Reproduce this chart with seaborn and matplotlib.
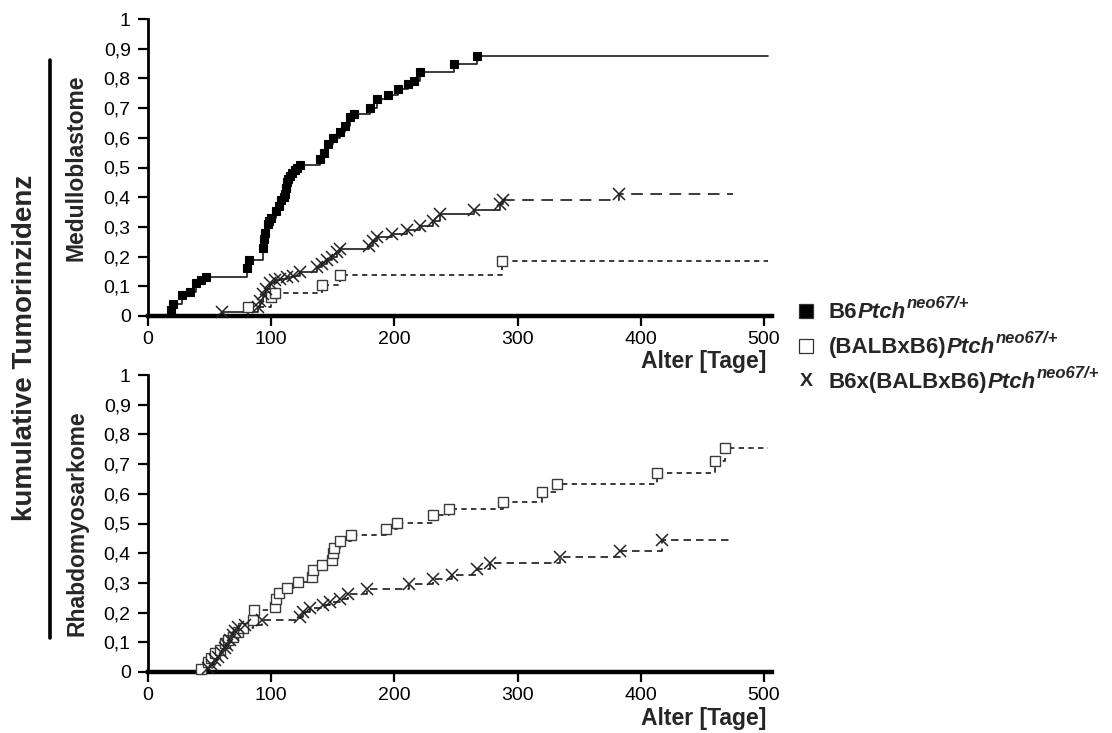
import numpy as np
import pandas as pd
import matplotlib
matplotlib.use("Agg")
import matplotlib.pyplot as plt
from matplotlib.lines import Line2D
import seaborn as sns

# ---------------- data: cumulative tumour incidence (event day, incidence) ----------------
groups = ["B6", "BALBxB6", "B6xBALBxB6"]

# Medulloblastome
mb_b6_days = [19, 20, 28, 34, 39, 43, 47, 80, 82, 93, 94, 95, 97, 98, 100, 104, 106, 108, 110,
              111, 112, 113, 114, 115, 117, 119, 121, 123, 140, 143, 146, 150, 156, 160, 164,
              167, 180, 186, 195, 203, 211, 216, 221, 248, 267]
mb_b6_inc = [0.02, 0.04, 0.07, 0.08, 0.11, 0.12, 0.13, 0.16, 0.19, 0.23, 0.26, 0.28, 0.31, 0.32,
             0.33, 0.355, 0.37, 0.39, 0.40, 0.41, 0.43, 0.45, 0.46, 0.47, 0.48, 0.49, 0.50, 0.51,
             0.53, 0.55, 0.58, 0.60, 0.62, 0.64, 0.67, 0.68, 0.70, 0.73, 0.745, 0.765, 0.78,
             0.79, 0.82, 0.85, 0.875]
mb_b6_span = (17, 503)

mb_bal_days = [81, 100, 103, 141, 156, 287]
mb_bal_inc = [0.03, 0.065, 0.077, 0.104, 0.137, 0.185]
mb_bal_span = (42, 503)

mb_mix_days = [60, 89, 91, 93.6, 96, 99, 103, 107, 112.6, 118, 123, 137, 141, 145, 149.6, 153.6,
               156, 179, 183, 186, 198, 210, 221, 231.5, 237, 265, 286, 288, 382]
mb_mix_inc = [0.015, 0.03, 0.05, 0.075, 0.09, 0.11, 0.12, 0.125, 0.13, 0.135, 0.148, 0.165, 0.175,
              0.19, 0.20, 0.215, 0.226, 0.237, 0.254, 0.265, 0.277, 0.288, 0.304, 0.321, 0.344,
              0.357, 0.377, 0.39, 0.41]
mb_mix_span = (42, 475)

# Rhabdomyosarkome
rms_bal_days = [42.7, 49, 51.5, 54.4, 58.4, 62.5, 65, 69, 73, 77, 85.5, 86, 103, 104, 106, 112.6,
                122, 133, 134, 141, 149, 150, 151, 156, 165, 193, 202, 231, 244.6, 288, 319.5,
                331.7, 413.4, 460, 468.3]
rms_bal_inc = [0.01, 0.035, 0.046, 0.063, 0.074, 0.097, 0.108, 0.119, 0.136, 0.147, 0.175, 0.209,
               0.22, 0.245, 0.265, 0.282, 0.304, 0.32, 0.343, 0.36, 0.377, 0.40, 0.417, 0.44,
               0.461, 0.48, 0.502, 0.53, 0.549, 0.572, 0.605, 0.633, 0.67, 0.71, 0.755]
rms_bal_span = (18, 503)

rms_mix_days = [49, 51.7, 54.4, 57, 59.8, 62.5, 64.4, 66.6, 68.7, 70.6, 73.3, 78.7, 92.3, 123, 126,
                131.5, 142, 147.7, 156, 162.6, 177.5, 212, 231.6, 246.5, 266.8, 277.6, 334.4,
                383, 417]
rms_mix_inc = [0.015, 0.024, 0.04, 0.052, 0.063, 0.08, 0.09, 0.108, 0.125, 0.139, 0.152, 0.158,
               0.175, 0.186, 0.203, 0.214, 0.225, 0.236, 0.247, 0.264, 0.28, 0.295, 0.312, 0.326,
               0.347, 0.367, 0.387, 0.406, 0.445]
rms_mix_span = (45, 475)

x_ticks = [0, 100, 200, 300, 400, 500]
y_ticks = [0, 0.1, 0.2, 0.3, 0.4, 0.5, 0.6, 0.7, 0.8, 0.9, 1.0]
y_tick_labels = ["0", "0,1", "0,2", "0,3", "0,4", "0,5", "0,6", "0,7", "0,8", "0,9", "1"]
x_title = "Alter [Tage]"
panel_titles = ["Medulloblastome", "Rhabdomyosarkome"]
outer_title = "kumulative Tumorinzidenz"

# ---------------- style ----------------
sns.set_theme(style="white")
plt.rcParams["font.family"] = ["Liberation Sans", "DejaVu Sans"]
FONT = "Liberation Sans"

W, H = 1112, 733
fig = plt.figure(figsize=(W / 100, H / 100), dpi=100)
fig.patch.set_facecolor("white")


def px_rect(left, top, right, bottom):
    return [left / W, 1 - bottom / H, (right - left) / W, (bottom - top) / H]


ax_top = fig.add_axes(px_rect(148, 19, 772, 316))
ax_bot = fig.add_axes(px_rect(148, 375, 772, 672))

styles = {
    "B6": dict(ls="-", marker="s", mfc="black", mec="black", ms=6.3, mew=0.8),
    "BALBxB6": dict(ls=(0, (3.2, 2.6)), marker="s", mfc="white", mec="#3a3a3a", ms=6.5, mew=1.0),
    "B6xBALBxB6": dict(ls="-", marker="x", mfc="none", mec="#222222", ms=8.0, mew=1.1),
}


def step_frame(days, inc, span):
    x = [span[0]] + list(days) + [span[1]]
    y = [0.0] + list(inc) + [inc[-1]]
    return pd.DataFrame({"Tage": x, "Inzidenz": y})


def draw_curve(ax, days, inc, span, key, ls=None, tail_ls=None, tail_from=None):
    st = styles[key]
    line_ls = ls if ls is not None else st["ls"]
    df = step_frame(days, inc, span)
    parts = [(df, line_ls)]
    if tail_from is not None:
        parts = [(df[df["Tage"] <= tail_from], line_ls), (df[df["Tage"] >= tail_from], tail_ls)]
    for part, style in parts:
        sns.lineplot(data=part, x="Tage", y="Inzidenz", ax=ax, drawstyle="steps-post",
                     color="#1a1a1a", lw=1.2, linestyle=style, estimator=None, sort=False)
    ax.plot(days, inc, linestyle="none", marker=st["marker"],
            markerfacecolor=st["mfc"], markeredgecolor=st["mec"], markersize=st["ms"],
            markeredgewidth=st["mew"], zorder=4, clip_on=False)


# top panel
draw_curve(ax_top, mb_bal_days, mb_bal_inc, mb_bal_span, "BALBxB6")
draw_curve(ax_top, mb_mix_days, mb_mix_inc, mb_mix_span, "B6xBALBxB6",
           ls="-", tail_ls=(0, (7, 4.5)), tail_from=288)
draw_curve(ax_top, mb_b6_days, mb_b6_inc, mb_b6_span, "B6")

# bottom panel
draw_curve(ax_bot, rms_bal_days, rms_bal_inc, rms_bal_span, "BALBxB6")
draw_curve(ax_bot, rms_mix_days, rms_mix_inc, rms_mix_span, "B6xBALBxB6", ls=(0, (4.5, 3)))

for ax, title in zip([ax_top, ax_bot], panel_titles):
    ax.set_xlim(0, 506.5)
    ax.set_ylim(0, 1)
    ax.set_facecolor("white")
    sns.despine(ax=ax)
    ax.spines["left"].set_linewidth(2.0)
    ax.spines["bottom"].set_linewidth(3.2)
    ax.spines["left"].set_color("black")
    ax.spines["bottom"].set_color("black")
    ax.set_xticks(x_ticks)
    ax.set_xticklabels([str(t) for t in x_ticks])
    ax.set_yticks(y_ticks)
    ax.set_yticklabels(y_tick_labels)
    ax.tick_params(axis="both", which="major", direction="out", length=7.5, width=1.6,
                   color="black", labelsize=14, labelcolor="black", bottom=True, left=True)
    ax.tick_params(axis="x", pad=3)
    ax.tick_params(axis="y", pad=5)
    for lab in ax.get_xticklabels() + ax.get_yticklabels():
        lab.set_fontfamily(FONT)
    ax.set_xlabel("")
    ax.set_ylabel(title, fontsize=16.5, fontweight="bold", fontfamily=FONT)
    ax.yaxis.set_label_coords((88 - 148) / 624, 0.5)
    ax.grid(False)

# axis titles under each panel
fig.text(766 / W, 1 - 362 / H, x_title, ha="right", va="center", fontsize=16.5,
         fontweight="bold", fontfamily=FONT)
fig.text(766 / W, 1 - 719 / H, x_title, ha="right", va="center", fontsize=16.5,
         fontweight="bold", fontfamily=FONT)

# shared outer label with bracket line
fig.text(25 / W, 1 - 348 / H, outer_title, rotation=90, ha="center", va="center",
         fontsize=20, fontweight="bold", fontfamily=FONT)
fig.add_artist(Line2D([50 / W, 50 / W], [1 - 60 / H, 1 - 638 / H], transform=fig.transFigure,
                      color="black", lw=2.6))

# legend drawn as rich text rows
renderer = fig.canvas.get_renderer()
legend_rows = [
    ("s", "black", "B6", "Ptch", "neo67/+", 311),
    ("s", "white", "(BALBxB6)", "Ptch", "neo67/+", 346),
    ("X", None, "B6x(BALBxB6)", "Ptch", "neo67/+", 381),
]
for marker, face, plain, ital, sup, ypx in legend_rows:
    if marker == "X":
        fig.text(806 / W, 1 - ypx / H, "X", ha="center", va="center", fontsize=14,
                 fontweight="bold", fontfamily=FONT)
    else:
        fig.add_artist(Line2D([806 / W], [1 - ypx / H], transform=fig.transFigure,
                              marker="s", markersize=9.5, markerfacecolor=face,
                              markeredgecolor="#333333", markeredgewidth=0.9, linestyle="none"))
    xpx = 829
    t1 = fig.text(xpx / W, 1 - (ypx + 7) / H, plain, ha="left", va="baseline", fontsize=16,
                  fontweight="bold", fontfamily=FONT)
    xpx += t1.get_window_extent(renderer).width
    t2 = fig.text(xpx / W, 1 - (ypx + 7) / H, ital, ha="left", va="baseline", fontsize=16,
                  fontweight="bold", fontstyle="italic", fontfamily=FONT)
    xpx += t2.get_window_extent(renderer).width + 1
    fig.text(xpx / W, 1 - (ypx - 3) / H, sup, ha="left", va="baseline", fontsize=12,
             fontweight="bold", fontstyle="italic", fontfamily=FONT)

fig.savefig("out.png", dpi=100, facecolor="white")
